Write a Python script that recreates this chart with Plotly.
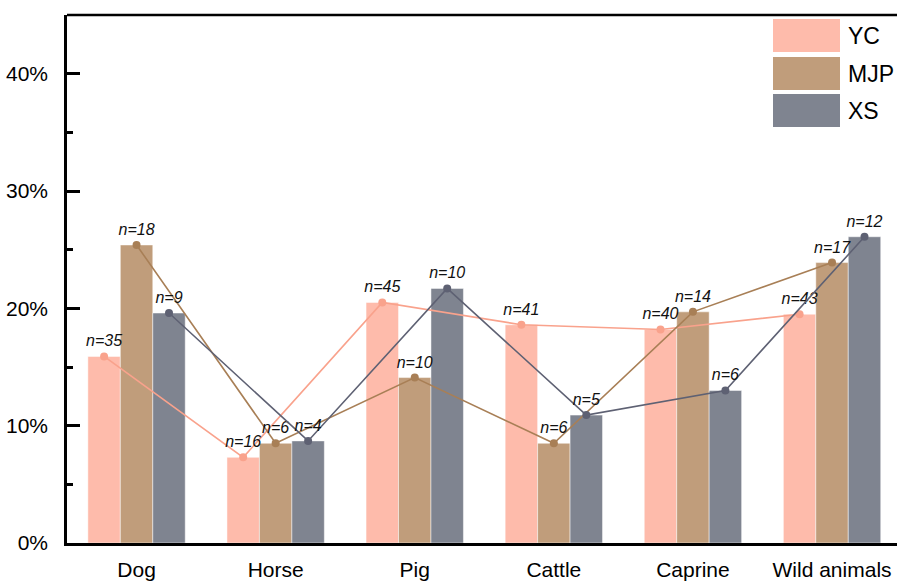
import plotly.graph_objects as go

# Share of each animal category per site (%), with specimen counts
categories = ["Dog", "Horse", "Pig", "Cattle", "Caprine", "Wild animals"]
series_names = ["YC", "MJP", "XS"]
yc_pct = [15.9, 7.3, 20.5, 18.6, 18.2, 19.5]
mjp_pct = [25.4, 8.5, 14.1, 8.5, 19.7, 23.9]
xs_pct = [19.6, 8.7, 21.7, 10.9, 13.0, 26.1]
yc_n = [35, 16, 45, 41, 40, 43]
mjp_n = [18, 6, 10, 6, 14, 17]
xs_n = [9, 4, 10, 5, 6, 12]
y_ticks = [0, 10, 20, 30, 40]

bar_colors = ["#FEBBAB", "#C09D7B", "#7F8490"]
line_colors = ["#F9A28C", "#A87F56", "#5E6173"]
FONT = "Liberation Sans, Arial, sans-serif"

W, H = 897, 581
ML, MR, MT, MB = 67, 0, 15, 38
bar_w = 0.7 / 3
offsets = [-bar_w, 0.0, bar_w]

fig = go.Figure()
values = [yc_pct, mjp_pct, xs_pct]
counts = [yc_n, mjp_n, xs_n]
idx = list(range(len(categories)))

for name, vals, col, off in zip(series_names, values, bar_colors, offsets):
    fig.add_trace(go.Bar(
        x=[i + off for i in idx], y=vals, width=bar_w, name=name,
        marker=dict(color=col, line=dict(color="rgba(255,255,255,0.6)", width=0.8)),
        showlegend=False,
    ))

for name, vals, ns, col, off in zip(series_names, values, counts, line_colors, offsets):
    fig.add_trace(go.Scatter(
        x=[i + off for i in idx], y=vals, mode="lines+markers+text",
        line=dict(color=col, width=1.6),
        marker=dict(color=col, size=8),
        text=[f"<i>n={n}</i>" for n in ns],
        textposition="top center",
        textfont=dict(family=FONT, size=16, color="#111111"),
        showlegend=False, cliponaxis=False,
    ))

# Frame line along the top of the plot area
fig.add_shape(type="line", xref="paper", yref="paper", x0=0, x1=1, y0=1, y1=1,
              line=dict(color="black", width=2.5))

# Legend drawn as large colour swatches with labels
plot_w = W - ML - MR
plot_h = H - MT - MB
def px_x(px):
    return (px - ML) / plot_w
def px_y(py):
    return (H - MB - py) / plot_h

sw_x0, sw_x1 = 773, 840
sw_tops = [19, 57, 94]
sw_h = 33
for name, col, top in zip(series_names, bar_colors, sw_tops):
    fig.add_shape(type="rect", xref="paper", yref="paper",
                  x0=px_x(sw_x0), x1=px_x(sw_x1), y0=px_y(top + sw_h), y1=px_y(top),
                  fillcolor=col, line=dict(width=0))
    fig.add_annotation(xref="paper", yref="paper", x=px_x(846), y=px_y(top + sw_h / 2),
                       text=name, showarrow=False, xanchor="left", yanchor="middle",
                       font=dict(family=FONT, size=23, color="black"))

fig.update_layout(
    width=W, height=H,
    margin=dict(l=ML, r=MR, t=MT, b=MB, autoexpand=False),
    paper_bgcolor="white", plot_bgcolor="white",
    barmode="overlay",
    font=dict(family=FONT, color="black"),
    xaxis=dict(
        range=[-0.5, 5.467], tickmode="array", tickvals=idx, ticktext=categories,
        showline=True, linecolor="black", linewidth=2.5, ticks="",
        showgrid=False, zeroline=False, automargin=False,
        tickfont=dict(family=FONT, size=21, color="black"),
        ticklabelstandoff=6,
    ),
    yaxis=dict(
        range=[0, 45], tickmode="array", tickvals=y_ticks,
        ticktext=[f"{t}%" for t in y_ticks],
        showline=True, linecolor="black", linewidth=2.5,
        ticks="inside", ticklen=13, tickwidth=2.5, tickcolor="black",
        minor=dict(dtick=5, tick0=0, ticks="inside", ticklen=6, tickwidth=2.5, tickcolor="black"),
        showgrid=False, zeroline=False, automargin=False,
        tickfont=dict(family=FONT, size=21, color="black"),
        ticklabelstandoff=12,
    ),
)

fig.write_html("out.html")
